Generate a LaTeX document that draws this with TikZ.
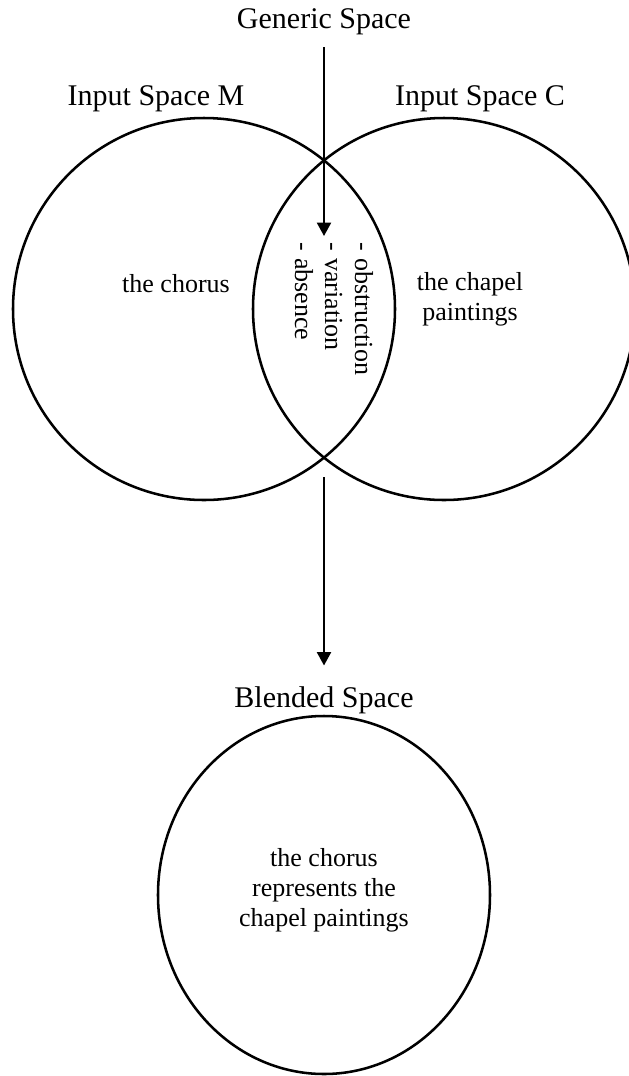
\documentclass[tikz,border=0pt]{standalone}
\usepackage{fontspec}
\setmainfont{Liberation Serif}
\usetikzlibrary{arrows.meta}

\tikzset{
  spacename/.style={font=\fontsize{22.5}{26}\selectfont, anchor=base},
  bodytext/.style={font=\fontsize{19.5}{22.5}\selectfont, align=center},
  spaceline/.style={line width=1.9pt},
}

\begin{document}
\begin{tikzpicture}[x=0.75pt, y=-0.75pt, >={Triangle[length=10pt,width=10.5pt]}]
  \useasboundingbox (0,0) rectangle (629,1076);

  % 输入空间 M 与 C
  \draw[spaceline] (204,309) circle (191);
  \draw[spaceline] (444,309) circle (191);

  % 合成空间
  \draw[spaceline] (324,895) ellipse (166 and 179);

  % 空间名称
  \node[spacename] (generic) at (324,28) {Generic Space};
  \node[spacename] (inputM) at (156,105) {Input Space M};
  \node[spacename] (inputC) at (480,105) {Input Space C};
  \node[spacename] (blended) at (324,707) {Blended Space};

  % 空间内容
  \node[bodytext] (chorus) at (176,284) {the chorus};
  \node[bodytext] (chapel) at (470,299) {the chapel\\paintings};
  \node[bodytext, rotate=-90, align=left] (shared) at (334,309)
    {- obstruction\\- variation\\- absence};
  \node[bodytext] (result) at (324,890)
    {the chorus\\represents the\\chapel paintings};

  % 箭头
  \coordinate (genericTip) at (324,236);
  \coordinate (blendTail) at (324,477);
  \draw[->, line width=1.5pt, shorten <=6pt] (generic.south) -- (genericTip);
  \draw[->, line width=1.5pt, shorten >=12pt] (blendTail) -- (blended.north);
\end{tikzpicture}
\end{document}
